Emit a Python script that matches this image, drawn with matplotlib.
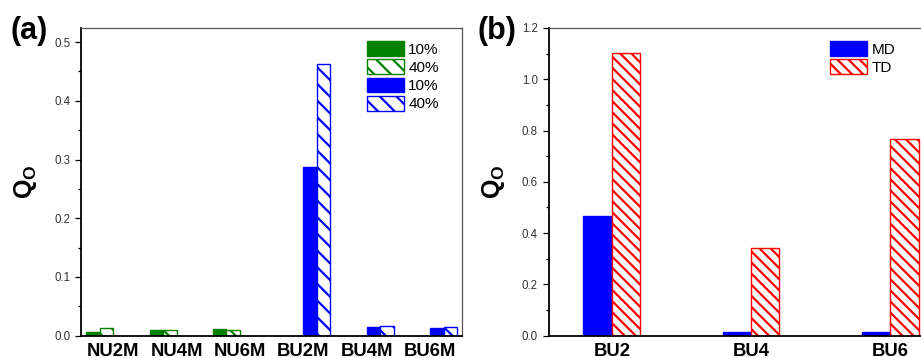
import numpy as np
import matplotlib
matplotlib.use('Agg')
import matplotlib.pyplot as plt
from matplotlib.ticker import MultipleLocator

plt.rcParams['font.family'] = ['Liberation Sans', 'DejaVu Sans']
plt.rcParams['mathtext.fontset'] = 'custom'
plt.rcParams['mathtext.rm'] = 'Liberation Sans'
plt.rcParams['mathtext.bf'] = 'Liberation Sans:bold'
plt.rcParams['hatch.linewidth'] = 1.6

# panel (a) data
cats_a = ['NU2M', 'NU4M', 'NU6M', 'BU2M', 'BU4M', 'BU6M']
nu_10 = [0.006, 0.009, 0.011, np.nan, np.nan, np.nan]
nu_40 = [0.0126, 0.010, 0.0097, np.nan, np.nan, np.nan]
bu_10 = [np.nan, np.nan, np.nan, 0.288, 0.014, 0.0126]
bu_40 = [np.nan, np.nan, np.nan, 0.463, 0.016, 0.015]
labels_a = ['10%', '40%', '10%', '40%']

# panel (b) data
cats_b = ['BU2', 'BU4', 'BU6']
md = [0.467, 0.016, 0.016]
td = [1.101, 0.341, 0.766]
labels_b = ['MD', 'TD']

green = '#008000'
blue = '#0000FF'
red = '#FF0000'

fig = plt.figure(figsize=(9.21, 3.58), dpi=100)
W, H = 921, 358


def style_axes(ax):
    for s in ['left', 'bottom']:
        ax.spines[s].set_linewidth(1.3)
        ax.spines[s].set_color('black')
    for s in ['top', 'right']:
        ax.spines[s].set_linewidth(0.9)
        ax.spines[s].set_color('#555555')
    ax.tick_params(axis='y', which='major', direction='out', length=4.5, width=0.9,
                   labelsize=8.3, labelcolor='#333333', right=False)
    ax.tick_params(axis='y', which='minor', direction='out', length=2.5, width=0.9, right=False)
    ax.tick_params(axis='x', which='both', length=0, pad=5)
    for lab in ax.get_xticklabels():
        lab.set_fontweight('bold')
        lab.set_fontsize(13.3)


# ---- panel (a)
ax1 = fig.add_axes([81.4 / W, 22.3 / H, 380.6 / W, 307.7 / H])
x = np.arange(1, len(cats_a) + 1)
w = 0.213
ax1.bar(x - 1.5 * w, nu_10, w, color=green, edgecolor=green, linewidth=1, label=labels_a[0])
ax1.bar(x - 0.5 * w, nu_40, w, color='white', edgecolor=green, hatch='\\\\', linewidth=1, label=labels_a[1])
ax1.bar(x + 0.5 * w, bu_10, w, color=blue, edgecolor=blue, linewidth=1, label=labels_a[2])
ax1.bar(x + 1.5 * w, bu_40, w, color='white', edgecolor=blue, hatch='\\\\', linewidth=1, label=labels_a[3])
ax1.set_xlim(0.5, 6.5)
ax1.set_ylim(0, 0.524)
ax1.set_xticks(x)
ax1.set_xticklabels(cats_a)
ax1.yaxis.set_major_locator(MultipleLocator(0.1))
ax1.yaxis.set_minor_locator(MultipleLocator(0.05))
style_axes(ax1)
ax1.set_ylabel(r'$\mathbf{Q_O}$', fontsize=18)
ax1.yaxis.set_label_coords(-0.112, 0.5)
ax1.legend(loc='upper left', bbox_to_anchor=(367 / W, 1 - 41 / H), bbox_transform=fig.transFigure,
           frameon=False, fontsize=11, handlelength=2.4, handleheight=1.1,
           labelspacing=0.18, handletextpad=0.3, borderpad=0, borderaxespad=0)
fig.text(29 / W, 1 - 31 / H, '(a)', fontsize=22, fontweight='bold', ha='center', va='center')

# ---- panel (b)
ax2 = fig.add_axes([549 / W, 22.3 / H, 404 / W, 307.7 / H])
xb = np.arange(1, len(cats_b) + 1)
wb = 0.205
ax2.bar(xb - 0.5 * wb, md, wb, color=blue, edgecolor=blue, linewidth=1, label=labels_b[0])
ax2.bar(xb + 0.5 * wb, td, wb, color='white', edgecolor=red, hatch='\\\\\\', linewidth=1, label=labels_b[1])
ax2.set_xlim(0.547, 3.453)
ax2.set_ylim(0, 1.2)
ax2.set_xticks(xb)
ax2.set_xticklabels(cats_b)
ax2.yaxis.set_major_locator(MultipleLocator(0.2))
ax2.yaxis.set_minor_locator(MultipleLocator(0.1))
style_axes(ax2)
ax2.set_ylabel(r'$\mathbf{Q_O}$', fontsize=18)
ax2.yaxis.set_label_coords(-0.103, 0.5)
ax2.legend(loc='upper left', bbox_to_anchor=(830 / W, 1 - 41 / H), bbox_transform=fig.transFigure,
           frameon=False, fontsize=11, handlelength=2.4, handleheight=1.1,
           labelspacing=0.18, handletextpad=0.3, borderpad=0, borderaxespad=0)
fig.text(497 / W, 1 - 31 / H, '(b)', fontsize=22, fontweight='bold', ha='center', va='center')

plt.savefig('out.png', dpi=100)
